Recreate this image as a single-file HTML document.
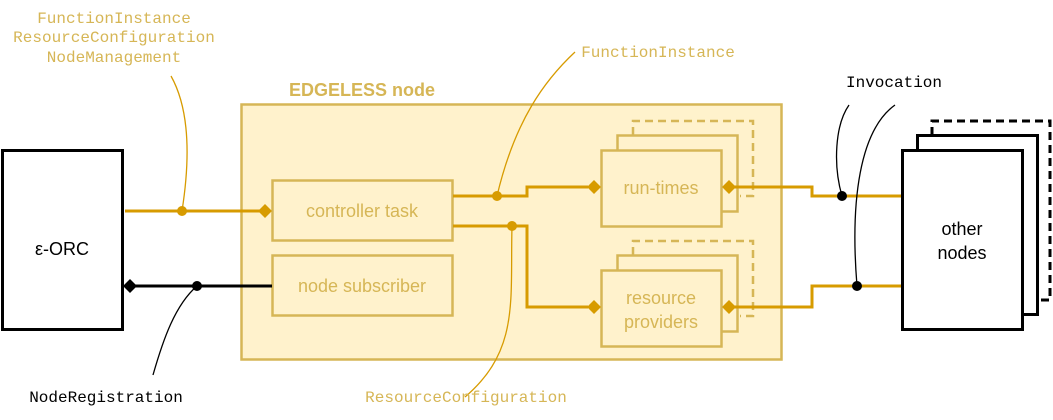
<!DOCTYPE html>
<html><head><meta charset="utf-8"><style>
html,body{margin:0;padding:0;background:#fff;}
svg{display:block}
</style></head><body>
<svg width="1053" height="420" viewBox="0 0 1053 420" xmlns="http://www.w3.org/2000/svg">
<rect x="241.5" y="104.5" width="540" height="255" fill="#fff2cc" stroke="#d6b656" stroke-width="2.5"/>
<text x="362" y="96" text-anchor="middle" font-family="Liberation Sans, sans-serif" font-weight="bold" font-size="18" fill="#d6b656">EDGELESS node</text>
<rect x="272.5" y="180.5" width="180" height="60" fill="#fff2cc" stroke="#d6b656" stroke-width="2.5"/>
<text x="362" y="217" text-anchor="middle" font-family="Liberation Sans, sans-serif" font-size="18" fill="#d6b656">controller task</text>
<rect x="272.5" y="255.5" width="180" height="60" fill="#fff2cc" stroke="#d6b656" stroke-width="2.5"/>
<text x="362" y="292" text-anchor="middle" font-family="Liberation Sans, sans-serif" font-size="18" fill="#d6b656">node subscriber</text>
<path d="M633 135 V121 H753 V196 H740" fill="none" stroke="#d6b656" stroke-width="2.5" stroke-dasharray="8 5"/>
<rect x="617.5" y="135.5" width="120" height="76" fill="#fff2cc" stroke="#d6b656" stroke-width="2.5"/>
<rect x="601.5" y="150.5" width="120" height="76" fill="#fff2cc" stroke="#d6b656" stroke-width="2.5"/>
<text x="661" y="194" text-anchor="middle" font-family="Liberation Sans, sans-serif" font-size="18" fill="#d6b656">run-times</text>
<path d="M633 255 V241 H753 V316 H740" fill="none" stroke="#d6b656" stroke-width="2.5" stroke-dasharray="8 5"/>
<rect x="617.5" y="255.5" width="120" height="76" fill="#fff2cc" stroke="#d6b656" stroke-width="2.5"/>
<rect x="601.5" y="270.5" width="120" height="76" fill="#fff2cc" stroke="#d6b656" stroke-width="2.5"/>
<text x="661" y="304" text-anchor="middle" font-family="Liberation Sans, sans-serif" font-size="18" fill="#d6b656">resource</text>
<text x="661" y="328" text-anchor="middle" font-family="Liberation Sans, sans-serif" font-size="18" fill="#d6b656">providers</text>
<rect x="2.5" y="150.5" width="120" height="179" fill="#fff" stroke="#000" stroke-width="3"/>
<text x="62" y="255" text-anchor="middle" font-family="Liberation Sans, sans-serif" font-size="18" fill="#000">ε-ORC</text>
<path d="M932 135 V121 H1050 V300 H1037" fill="none" stroke="#000" stroke-width="3" stroke-dasharray="8 5"/>
<rect x="917.5" y="135.5" width="120" height="179" fill="#fff" stroke="#000" stroke-width="3"/>
<rect x="902.5" y="150.5" width="120" height="179" fill="#fff" stroke="#000" stroke-width="3"/>
<text x="962" y="235" text-anchor="middle" font-family="Liberation Sans, sans-serif" font-size="18">other</text>
<text x="962" y="259" text-anchor="middle" font-family="Liberation Sans, sans-serif" font-size="18">nodes</text>
<g stroke="#d79b00" stroke-width="3" fill="none">
<path d="M125 211 H262"/>
<path d="M453 196 H527 V187 H588"/>
<path d="M453 226 H527 V307 H588"/>
<path d="M732 187 H812 V196 H901"/>
<path d="M732 307 H812 V286 H901"/>
</g>
<g fill="#d79b00">
<path d="M258 211 l7 -7 l7 7 l-7 7z"/>
<path d="M587 187 l7 -7 l7 7 l-7 7z"/>
<path d="M587 307 l7 -7 l7 7 l-7 7z"/>
<path d="M722 187 l7 -7 l7 7 l-7 7z"/>
<path d="M722 307 l7 -7 l7 7 l-7 7z"/>
<circle cx="182" cy="211" r="5"/>
<circle cx="497" cy="196" r="5"/>
<circle cx="512" cy="226" r="5"/>
</g>
<g stroke="#d79b00" stroke-width="1.3" fill="none">
<path d="M171 76 C190 110 190 160 182 211"/>
<path d="M497 196 C515 120 545 80 575 52"/>
<path d="M512 226 C510 300 520 350 465 397"/>
</g>
<path d="M133 286 H272" stroke="#000" stroke-width="3"/>
<path d="M123 286 l7 -7 l7 7 l-7 7z" fill="#000"/>
<circle cx="197" cy="286" r="5" fill="#000"/>
<circle cx="842" cy="196" r="5" fill="#000"/>
<circle cx="857" cy="286" r="5" fill="#000"/>
<g stroke="#000" stroke-width="1.3" fill="none">
<path d="M197 286 C175 305 163 340 153 375"/>
<path d="M849 105 C835 125 833 165 842 196"/>
<path d="M895 105 C860 130 850 200 857 286"/>
</g>
<g font-family="Liberation Mono, monospace" font-size="16" fill="#d6b656" text-anchor="middle">
<text x="114" y="23">FunctionInstance</text>
<text x="114" y="42">ResourceConfiguration</text>
<text x="114" y="62">NodeManagement</text>
<text x="658" y="57">FunctionInstance</text>
<text x="466" y="402">ResourceConfiguration</text>
</g>
<g font-family="Liberation Mono, monospace" font-size="16" fill="#000" text-anchor="middle">
<text x="106" y="402">NodeRegistration</text>
<text x="894" y="87">Invocation</text>
</g>
</svg>
</body></html>
